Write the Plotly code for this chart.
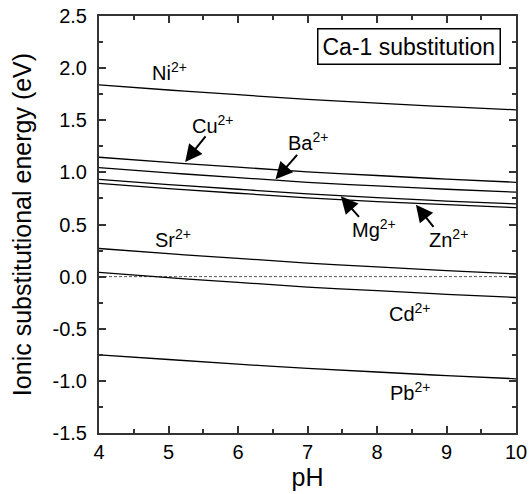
import plotly.graph_objects as go

ph = [4, 5, 6, 7, 8, 9, 10]
ni = [1.84, 1.79, 1.745, 1.70, 1.665, 1.63, 1.60]
cu = [1.145, 1.095, 1.05, 1.005, 0.97, 0.935, 0.905]
ba = [1.045, 0.995, 0.95, 0.905, 0.87, 0.838, 0.81]
mg = [0.933, 0.883, 0.838, 0.793, 0.758, 0.725, 0.697]
zn = [0.895, 0.845, 0.80, 0.755, 0.72, 0.69, 0.661]
sr = [0.27, 0.22, 0.175, 0.13, 0.093, 0.058, 0.025]
cd = [0.04, -0.01, -0.055, -0.10, -0.135, -0.17, -0.20]
pb = [-0.75, -0.795, -0.84, -0.88, -0.915, -0.95, -0.98]
series = [ni, cu, ba, mg, zn, sr, cd, pb]

x_ticks = [4, 5, 6, 7, 8, 9, 10]
y_ticks = [-1.5, -1.0, -0.5, 0.0, 0.5, 1.0, 1.5, 2.0, 2.5]
y_ticktext = ["-1.5", "-1.0", "-0.5", "0.0", "0.5", "1.0", "1.5", "2.0", "2.5"]

# labels: (text, pH, energy)
labels = [
    ("Ni<sup>2+</sup>", 5.02, 1.965),
    ("Cu<sup>2+</sup>", 5.64, 1.455),
    ("Ba<sup>2+</sup>", 7.01, 1.294),
    ("Mg<sup>2+</sup>", 7.95, 0.463),
    ("Zn<sup>2+</sup>", 9.03, 0.367),
    ("Sr<sup>2+</sup>", 5.07, 0.367),
    ("Cd<sup>2+</sup>", 8.47, -0.346),
    ("Pb<sup>2+</sup>", 8.47, -1.10),
]
# arrows: (tip pH, tip E, tail pH, tail E)
arrows = [
    (5.24, 1.10, 5.55, 1.36),
    (6.54, 0.933, 6.87, 1.183),
    (7.48, 0.770, 7.76, 0.559),
    (8.56, 0.690, 8.83, 0.463),
]

fig = go.Figure()
fig.add_trace(go.Scatter(x=[4, 10], y=[0, 0], mode="lines",
                         line=dict(color="#555555", width=1, dash="3px,2px"),
                         showlegend=False, hoverinfo="skip"))
for s in series:
    fig.add_trace(go.Scatter(x=ph, y=s, mode="lines", line=dict(color="black", width=1.3, shape="spline"),
                             showlegend=False))

font = dict(family="Liberation Sans, Arial, sans-serif", color="black")
for t, x, y in labels:
    fig.add_annotation(x=x, y=y, text=t, showarrow=False, font=dict(size=20, **font))
for tx, ty, sx, sy in arrows:
    fig.add_annotation(x=tx, y=ty, ax=sx, ay=sy, axref="x", ayref="y", text="",
                       showarrow=True, arrowhead=2, arrowsize=1.7, arrowwidth=2, arrowcolor="black")

fig.add_annotation(x=8.46, y=2.21, text="Ca-1 substitution", showarrow=False,
                   font=dict(size=23, **font), bordercolor="black", borderwidth=1.5,
                   borderpad=4, bgcolor="white")

axis_common = dict(showgrid=False, zeroline=False, showline=True, linecolor="#333333", linewidth=2,
                   mirror="allticks", ticks="inside", ticklen=7, tickwidth=2, tickcolor="#333333",
                   tickfont=dict(size=20, **font), automargin=False, ticklabeloverflow="allow")
fig.update_xaxes(range=[4, 10], tickvals=x_ticks, ticktext=[str(v) for v in x_ticks],
                 minor=dict(ticks="inside", ticklen=4, tickwidth=1.5, tickcolor="#333333", dtick=0.5),
                 title=dict(text="pH", font=dict(size=25, **font), standoff=4), **axis_common)
fig.update_yaxes(range=[-1.5, 2.5], tickvals=y_ticks, ticktext=y_ticktext, ticklabelstandoff=6,
                 minor=dict(ticks="inside", ticklen=4, tickwidth=1.5, tickcolor="#333333", dtick=0.25),
                 title=dict(text="Ionic substitutional energy (eV)", font=dict(size=25, **font), standoff=14),
                 **axis_common)
fig.update_layout(width=531, height=494, margin=dict(l=99, r=15, t=16, b=61),
                  plot_bgcolor="white", paper_bgcolor="white", font=font)
fig.write_html("out.html", config={"displayModeBar": False},
               post_script="document.body.style.margin='0';document.body.style.overflow='hidden';")
